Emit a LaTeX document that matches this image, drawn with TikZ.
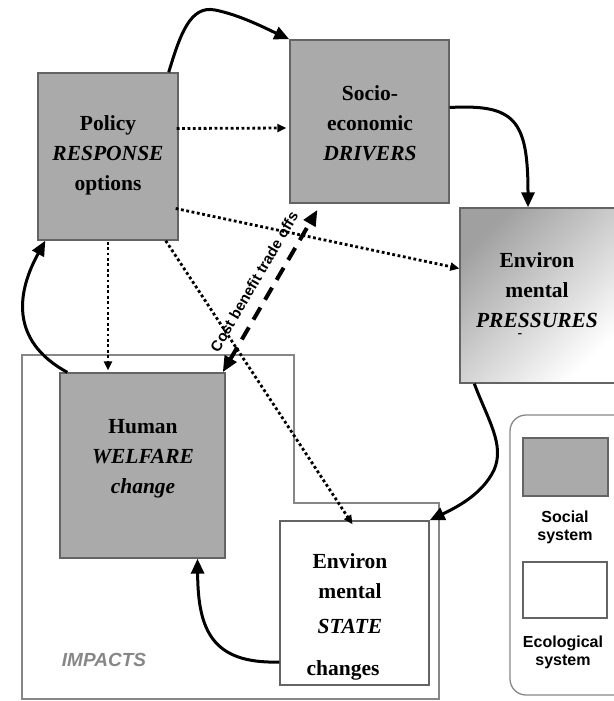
\documentclass[tikz,border=0pt]{standalone}
\usepackage{fontspec}
\setmainfont{Liberation Serif}
\setsansfont{Liberation Sans}
\usetikzlibrary{arrows.meta,calc}
\definecolor{boxgray}{RGB}{170,170,170}
\definecolor{edgegray}{RGB}{100,100,100}
\definecolor{linegray}{RGB}{135,135,135}
\definecolor{shadegray}{RGB}{160,160,160}
\begin{document}
\begin{tikzpicture}[x=1pt,y=-1pt,
  box/.style 2 args={draw=edgegray,line width=1.4pt,inner sep=0pt,minimum width=#1,minimum height=#2},
  social/.style={fill=boxgray},
  eco/.style={fill=white},
  lbl/.style={font=\bfseries\fontsize{21.5}{30}\selectfont,align=center,inner sep=0pt},
  leg/.style={font=\sffamily\bfseries\fontsize{16}{18}\selectfont,align=center,inner sep=0pt},
  flow/.style={line width=3pt,-{Triangle[length=15pt,width=13pt]}},
  infl/.style={line width=2.8pt,dash pattern=on 2.8pt off 2.6pt,-{Triangle[length=9pt,width=8pt]}},
  trade/.style={line width=4pt,dash pattern=on 14pt off 9pt,{Triangle[length=16pt,width=13pt]}-{Triangle[length=16pt,width=13pt]}}
]
\useasboundingbox (0,0) rectangle (613,701);
% IMPACTS outline
\draw[linegray,line width=1.3pt] (22,355) -- (294,355) -- (294,503) -- (439,503) -- (439,699) -- (22,699) -- cycle;
% legend frame
\draw[linegray,line width=1.3pt,rounded corners=16pt] (616,415) -- (510,415) -- (510,695) -- (616,695);

% boxes
\node[box={140pt}{167pt},social] (policy) at (108,156.5) {};
\node[box={159pt}{163pt},social] (socio) at (369.5,121.5) {};
\node[box={156pt}{175pt},top color=shadegray,bottom color=white,shading angle=45] (press) at (538,295.5) {};
\node[box={165pt}{185pt},social] (welfare) at (142.5,465.5) {};
\node[box={149pt}{164pt},eco] (state) at (354.5,603) {};

% texts
\node[lbl] (policytxt) at (108,155) {Policy\\\textit{RESPONSE}\\options};
\node[lbl] (sociotxt) at (370,123) {Socio-\\economic\\\textit{DRIVERS}};
\node[lbl] (presstxt) at (537,290) {Environ\\mental\\\textit{PRESSURES}};
\node[font=\bfseries\fontsize{14}{14}\selectfont,inner sep=0pt] (pdash) at (520,336) {-};
\node[lbl] (welfaretxt) at (143,459) {Human\\\textit{WELFARE}\\\textit{change}};
\node[lbl] (statetxt) at (350,594) {Environ\\mental\\[5pt]\textit{STATE}};
\node[lbl] (statetxt2) at (343,670) {changes};
\node[font=\sffamily\bfseries\itshape\fontsize{19}{19}\selectfont,text=linegray,inner sep=0pt] (impacts) at (104,660) {IMPACTS};

% legend
\node[box={85pt}{58pt},social] (socsw) at (565.5,467) {};
\node[leg] (soctxt) at (565,527) {Social\\system};
\node[box={84pt}{56pt},eco] (ecosw) at (565,590) {};
\node[leg] (ecotxt) at (563,652) {Ecological\\system};

% main cycle
\draw[flow] ($(policy.north east)+(-10,0)$) .. controls (180,35) and (190,5) .. (215,10) .. controls (240,15) and (265,28) .. (socio.north west);
\draw[flow] ($(socio.east)+(0,-14)$) .. controls (515,104) and (528,120) .. ($(press.north)+(-10,0)$);
\draw[flow] ($(press.south west)+(15,0)$) .. controls (488,420) and (505,445) .. (494,470) .. controls (482,495) and (455,508) .. (state.north east);
\draw[flow] ($(state.west)+(0,59)$) .. controls (212,664) and (198,630) .. ($(welfare.south)+(55,0)$);
\draw[flow] ($(welfare.north west)+(8,0)$) .. controls (8,340) and (18,290) .. ($(policy.south west)+(8,0)$);

% policy influences
\draw[infl] ($(policy.east)+(-2,-28)$) -- ($(socio.west)+(-3,6.5)$);
\draw[infl] ($(policy.east)+(-3,52)$) -- ($(press.west)+(0,-27)$);
\draw[infl] ($(policy.south)+(0,1)$) -- ($(welfare.north)+(-34.5,-2)$);
\draw[infl] ($(policy.south east)+(-13,0)$) -- ($(state.north)+(-2,4)$);

% trade offs
\draw[trade] ($(welfare.north east)+(-3,0)$) -- ($(socio.south)+(-52,6)$)
  node[pos=0.5,sloped,above=11pt,font=\sffamily\bfseries\fontsize{15}{15}\selectfont,inner sep=0pt] (tradelbl) {Cost benefit trade offs};
\end{tikzpicture}
\end{document}
